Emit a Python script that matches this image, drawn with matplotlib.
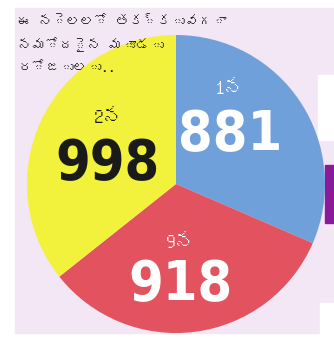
import matplotlib
matplotlib.use("Agg")
import matplotlib.pyplot as plt
from matplotlib import font_manager
from matplotlib.ft2font import FT2Font
from matplotlib.patches import Rectangle

# data
days = ["1న", "9న", "2న"]
counts = [881, 918, 998]
colors = ["#6fa0d9", "#e2525f", "#f2f23c"]
text_colors = ["white", "white", "#1a1a1a"]
title_lines = ["ఈ నెలలో తక్కువగా", "నమోదైన మూడు", "రోజులు.."]

# label positions in pie units (day label, number)
day_pos = [(0.36, 0.645), (0.03, -0.385), (-0.455, 0.45)]
num_pos = [(0.36, 0.33), (0.03, -0.68), (-0.46, 0.135)]


def find_telugu_font():
    # look for any installed font that has telugu glyphs
    for path in font_manager.findSystemFonts():
        try:
            cmap = FT2Font(path).get_charmap()
        except Exception:
            continue
        if 0x0C28 in cmap and 0x0C41 in cmap:
            font_manager.fontManager.addfont(path)
            return font_manager.FontProperties(fname=path).get_name()
    return None


def find_narrow_bold():
    # a condensed bold face for the big numbers, if there is one
    for f in font_manager.fontManager.ttflist:
        nm = (f.name + " " + f.fname).lower()
        if ("condensed" in nm or "narrow" in nm) and "bold" in f.fname.lower():
            return f.fname
    return None


tel = find_telugu_font()
tel_family = [tel, "DejaVu Sans"] if tel else ["DejaVu Sans"]
narrow = find_narrow_bold()
if narrow:
    num_font = font_manager.FontProperties(fname=narrow, size=40)
else:
    num_font = font_manager.FontProperties(family="Liberation Sans", weight="bold", size=38)

W, H = 334, 341
fig = plt.figure(figsize=(W / 100, H / 100), dpi=100)
fig.patch.set_facecolor("white")

# background panel and bits of the page on the right
def px_rect(x0, y0, x1, y1, color, z=-2):
    fig.patches.append(Rectangle((x0 / W, 1 - y1 / H), (x1 - x0) / W, (y1 - y0) / H,
                                 transform=fig.transFigure, color=color, zorder=z))

px_rect(15, 8, 334, 333, "#f3e6f5", -3)
px_rect(318, 75, 334, 140, "white")
px_rect(325, 165, 334, 223, "#8b1a9a")
px_rect(320, 303, 334, 341, "white")

cx, cy, r = 176, 184, 149
ax = fig.add_axes([(cx - r) / W, (H - cy - r) / H, 2 * r / W, 2 * r / H])
ax.set_zorder(5)
ax.set_facecolor("none")
ax.pie(counts, colors=colors, startangle=90, counterclock=False,
       wedgeprops=dict(linewidth=0))
ax.set_xlim(-1, 1)
ax.set_ylim(-1, 1)
ax.set_aspect("equal")
ax.axis("off")

for i in range(len(counts)):
    ax.text(day_pos[i][0], day_pos[i][1], days[i], ha="center", va="center",
            fontsize=14, fontweight="bold", color=text_colors[i], family=tel_family)
    ax.text(num_pos[i][0], num_pos[i][1], str(counts[i]), ha="center", va="center",
            fontproperties=num_font, color=text_colors[i])

for k, line in enumerate(title_lines):
    fig.text(18 / W, 1 - (22 + 23 * k) / H, line, ha="left", va="center",
             fontsize=10, color="#1a1a1a", family=tel_family, zorder=10)

fig.savefig("out.png", dpi=100)
